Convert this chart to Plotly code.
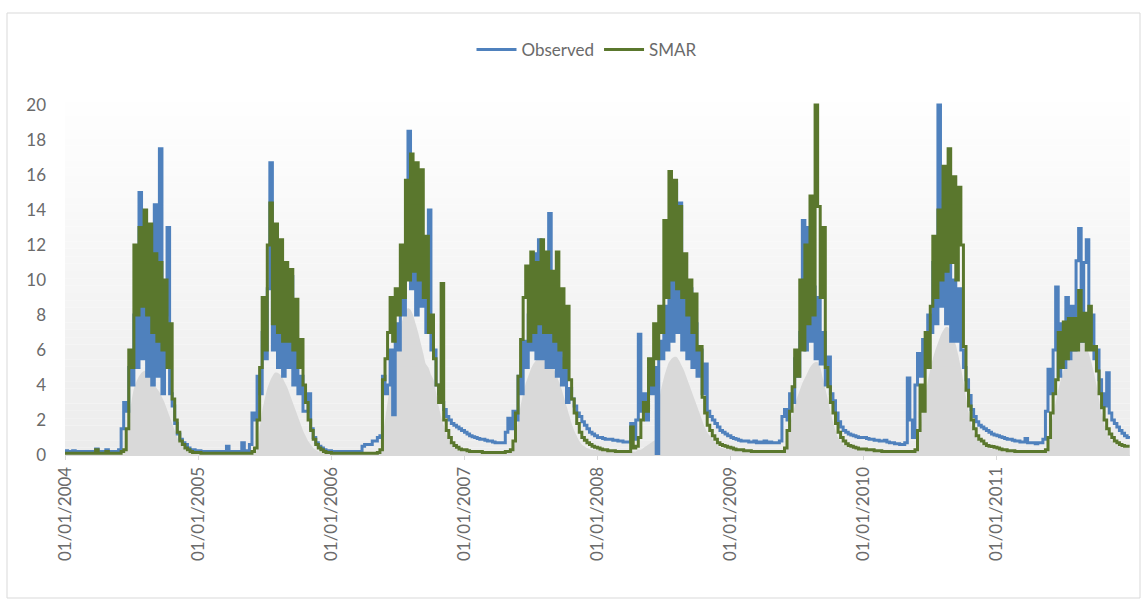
import pandas as pd
import plotly.graph_objects as go

# Weekly streamflow values (one value per 7 days from 1 January of each year)
years = [2004, 2005, 2006, 2007, 2008, 2009, 2010, 2011]

obs_2004 = [0.25, 0.2, 0.2, 0.25, 0.2, 0.2, 0.2, 0.2, 0.2, 0.2, 0.2, 0.2, 0.35, 0.2, 0.2, 0.2, 0.3, 0.2, 0.2, 0.2, 0.2, 0.3,
            1.5, 3.0, 2.5, 5.0, 4.0, 8.0, 5.0, 15.0, 5.5, 13.0, 4.5, 9.0, 4.0, 14.3, 4.5, 17.5, 3.5, 8.0, 13.0, 3.5,
            2.8, 1.8, 1.2, 0.9, 0.7, 0.6, 0.4, 0.3, 0.3, 0.25]
obs_2005 = [0.25, 0.2, 0.2, 0.2, 0.2, 0.2, 0.2, 0.2, 0.2, 0.2, 0.2, 0.5, 0.2, 0.2, 0.2, 0.2, 0.2, 0.7, 0.2, 0.25, 0.6,
            2.4, 2.0, 4.5, 3.5, 7.0, 5.5, 9.5, 16.7, 6.0, 8.5, 5.0, 8.0, 4.5, 7.5, 5.0, 10.2, 4.0, 6.0, 3.5, 4.5,
            2.5, 2.5, 3.5, 1.5, 1.0, 0.7, 0.5, 0.4, 0.3, 0.25, 0.25]
obs_2006 = [0.2, 0.2, 0.2, 0.2, 0.2, 0.2, 0.2, 0.2, 0.2, 0.2, 0.2, 0.2, 0.5, 0.6, 0.6, 0.6, 0.8, 0.8, 1.0, 1.1,
            4.5, 3.5, 4.0, 6.0, 2.3, 7.5, 6.0, 9.0, 8.0, 12.0, 18.5, 9.5, 12.5, 8.0, 11.0, 8.5, 12.0, 7.0, 14.0, 6.0,
            6.0, 4.0, 3.5, 3.0, 2.6, 2.2, 2.0, 1.8, 1.7, 1.6, 1.5, 1.4]
obs_2007 = [1.3, 1.2, 1.1, 1.05, 1.0, 0.95, 0.9, 0.9, 0.85, 0.8, 0.8, 0.75, 0.7, 0.7, 0.7, 0.7,
            1.3, 2.1, 1.5, 2.5, 2.0, 4.5, 3.5, 6.5, 5.0, 8.0, 6.0, 11.5, 5.5, 12.3, 5.5, 9.0, 5.0, 13.8, 5.0, 8.0,
            4.5, 7.0, 4.0, 5.5, 3.0, 3.8, 3.2, 2.8, 2.4, 2.2, 1.9, 1.7, 1.5, 1.3, 1.2, 1.1]
obs_2008 = [1.0, 1.0, 0.95, 0.9, 0.9, 0.9, 0.85, 0.85, 0.8, 0.8, 0.75, 0.75, 0.75,
            1.8, 0.9, 2.0, 6.9, 2.5, 3.5, 2.0, 4.5, 3.5, 5.0, 0.05, 6.5, 5.5, 8.5, 6.0, 10.0, 6.5, 15.5, 7.0, 14.4,
            6.0, 9.0, 5.5, 9.5, 5.0, 7.5, 4.5, 6.0, 3.5, 5.2, 2.5, 2.2, 2.0, 1.8, 1.6, 1.4, 1.3, 1.2, 1.1]
obs_2009 = [1.0, 0.95, 0.9, 0.85, 0.8, 0.8, 0.8, 0.75, 0.75, 0.8, 0.7, 0.75, 0.7, 0.8, 0.7, 0.75, 0.7, 0.7, 0.7, 0.8,
            2.2, 2.6, 2.0, 3.5, 3.0, 5.5, 4.5, 7.0, 13.4, 6.0, 13.0, 6.5, 9.6, 5.5, 9.0, 5.2, 7.0, 4.0, 5.6, 3.5,
            3.1, 2.4, 1.9, 1.6, 1.4, 1.3, 1.2, 1.15, 1.1, 1.05, 1.0, 1.0]
obs_2010 = [1.0, 0.95, 0.9, 0.9, 0.85, 0.85, 0.8, 0.8, 0.85, 0.75, 0.7, 0.7, 0.65, 0.65, 0.6, 0.6, 0.7,
            4.4, 2.0, 1.0, 4.0, 5.8, 4.5, 6.6, 5.5, 8.0, 7.0, 11.0, 7.5, 20.0, 8.5, 14.6, 7.5, 11.0, 6.5, 10.0,
            6.5, 9.5, 6.0, 5.0, 4.3, 3.4, 2.6, 2.2, 1.9, 1.7, 1.6, 1.5, 1.4, 1.3, 1.2, 1.15]
obs_2011 = [1.1, 1.05, 1.0, 0.95, 0.9, 0.9, 0.85, 0.8, 0.8, 0.75, 0.75, 0.95, 0.7, 0.7, 0.7, 0.65, 0.7, 0.7, 0.9,
            2.5, 4.9, 3.5, 6.0, 9.6, 4.5, 7.5, 5.0, 9.0, 5.5, 8.5, 6.0, 11.1, 12.95, 6.5, 11.0, 12.3, 6.5, 8.0,
            5.5, 6.0, 4.3, 3.5, 2.8, 4.7, 2.4, 2.0, 1.8, 1.6, 1.4, 1.25, 1.1, 1.0, 0.95]

smar_2004 = [0.1, 0.1, 0.1, 0.1, 0.1, 0.1, 0.1, 0.1, 0.1, 0.1, 0.1, 0.1, 0.3, 0.1, 0.1, 0.1, 0.2, 0.1, 0.1, 0.1, 0.1, 0.1,
             0.2, 0.3, 1.5, 6.0, 5.0, 12.0, 8.0, 13.0, 8.5, 14.0, 8.0, 13.2, 7.0, 11.5, 6.5, 11.0, 6.0, 10.0, 5.0,
             7.5, 3.2, 2.0, 1.3, 0.8, 0.6, 0.4, 0.3, 0.2, 0.15, 0.15]
smar_2005 = [0.15, 0.1, 0.1, 0.1, 0.1, 0.1, 0.1, 0.1, 0.1, 0.1, 0.1, 0.1, 0.1, 0.1, 0.1, 0.1, 0.1, 0.1, 0.1, 0.1, 0.1,
             0.2, 0.4, 2.0, 5.0, 9.0, 6.0, 12.0, 14.4, 7.5, 13.2, 7.0, 12.3, 6.5, 11.0, 6.5, 10.6, 6.0, 8.9, 5.0,
             6.6, 4.0, 3.0, 2.0, 1.4, 0.9, 0.6, 0.4, 0.3, 0.2, 0.15, 0.15]
smar_2006 = [0.1, 0.1, 0.1, 0.1, 0.1, 0.1, 0.1, 0.1, 0.1, 0.1, 0.1, 0.1, 0.1, 0.1, 0.1, 0.1, 0.1, 0.1, 0.15,
             0.3, 4.3, 5.5, 7.0, 9.0, 6.5, 9.5, 8.0, 12.0, 9.0, 15.7, 10.0, 17.2, 10.5, 16.7, 10.0, 16.3, 9.0,
             12.5, 7.0, 8.0, 5.5, 4.0, 3.0, 9.8, 2.0, 1.4, 1.0, 0.7, 0.55, 0.45, 0.35, 0.3]
smar_2007 = [0.3, 0.25, 0.2, 0.2, 0.2, 0.2, 0.2, 0.15, 0.15, 0.15, 0.15, 0.15, 0.15, 0.15, 0.15, 0.15,
             0.2, 0.2, 0.3, 0.8, 2.4, 4.5, 6.6, 9.0, 10.8, 6.5, 11.6, 7.0, 11.0, 7.5, 12.3, 7.0, 11.6, 7.0, 10.5,
             6.5, 11.6, 6.0, 9.5, 5.0, 8.5, 4.3, 3.2, 2.4, 1.8, 1.3, 1.0, 0.85, 0.7, 0.6, 0.5, 0.45]
smar_2008 = [0.4, 0.35, 0.3, 0.3, 0.25, 0.25, 0.25, 0.2, 0.2, 0.2, 0.2, 0.2, 0.2,
             1.6, 0.4, 0.5, 1.0, 2.0, 3.0, 2.5, 5.5, 4.0, 7.5, 5.5, 8.5, 7.0, 13.4, 9.0, 16.2, 10.0, 15.7, 9.5,
             14.2, 9.0, 11.5, 8.0, 10.0, 7.0, 9.2, 6.0, 6.2, 3.3, 2.4, 1.7, 1.4, 1.1, 0.9, 0.7, 0.6, 0.55, 0.5, 0.45]
smar_2009 = [0.4, 0.35, 0.3, 0.3, 0.3, 0.25, 0.25, 0.25, 0.2, 0.2, 0.2, 0.2, 0.2, 0.2, 0.2, 0.2, 0.2, 0.2, 0.2, 0.2,
             0.2, 0.4, 1.4, 2.5, 3.9, 6.0, 4.5, 10.0, 6.0, 12.0, 7.5, 14.8, 8.0, 20.0, 14.2, 9.0, 13.0, 5.0, 3.9,
             3.0, 2.4, 1.8, 1.3, 1.0, 0.8, 0.65, 0.55, 0.5, 0.45, 0.4, 0.35, 0.35]
smar_2010 = [0.35, 0.3, 0.3, 0.3, 0.25, 0.25, 0.25, 0.2, 0.2, 0.2, 0.2, 0.2, 0.2, 0.2, 0.2, 0.2, 0.2,
             0.2, 0.2, 0.2, 0.3, 1.4, 4.0, 2.5, 7.0, 5.0, 8.5, 12.5, 9.0, 14.0, 10.0, 16.5, 10.5, 17.5, 11.0, 15.9,
             10.0, 15.3, 12.0, 6.2, 3.7, 2.8, 2.0, 1.5, 1.1, 0.9, 0.8, 0.65, 0.55, 0.5, 0.48, 0.45]
smar_2011 = [0.4, 0.35, 0.3, 0.3, 0.25, 0.25, 0.25, 0.2, 0.2, 0.2, 0.2, 0.2, 0.2, 0.2, 0.2, 0.2, 0.2, 0.2, 0.2,
             0.3, 1.0, 2.4, 3.5, 4.3, 7.0, 5.0, 7.6, 5.5, 7.8, 6.0, 7.8, 6.0, 9.4, 6.5, 8.1, 6.0, 8.5, 6.0, 6.2,
             4.8, 3.5, 2.7, 2.0, 1.5, 1.2, 1.0, 0.8, 0.7, 0.6, 0.55, 0.5, 0.5, 0.5]

# Shaded base-flow envelope drawn beneath both lines
band_2004 = [0.1] * 24 + [0.5, 2.0, 3.0, 3.8, 4.2, 4.5, 4.7, 4.8, 4.8, 4.6, 4.3, 4.0, 3.8, 3.6, 3.3, 3.0, 2.6, 2.2,
                          1.8, 1.4, 1.0, 0.7, 0.5, 0.35, 0.2, 0.15, 0.1, 0.1]
band_2005 = [0.1] * 23 + [0.3, 1.5, 2.5, 3.2, 3.8, 4.2, 4.5, 4.7, 4.7, 4.6, 4.4, 4.1, 3.8, 3.4, 3.0, 2.6, 2.2, 1.8,
                          1.4, 1.1, 0.8, 0.6, 0.4, 0.3, 0.2, 0.15, 0.1, 0.1, 0.1]
band_2006 = [0.1] * 20 + [1.0, 2.0, 3.0, 4.0, 5.0, 5.8, 6.5, 7.2, 7.8, 8.2, 8.4, 8.3, 8.0, 7.5, 7.0, 6.4, 5.8, 5.2,
                          5.0, 4.6, 4.3, 3.6, 2.8, 2.2, 1.7, 1.2, 0.9, 0.6, 0.45, 0.35, 0.3, 0.25]
band_2007 = [0.25, 0.2, 0.2, 0.15, 0.15, 0.15, 0.15, 0.15, 0.1, 0.1, 0.1, 0.1, 0.1, 0.1, 0.1, 0.1, 0.1, 0.1, 0.15, 0.3,
             1.0, 2.0, 2.8, 3.5, 4.1, 4.5, 4.9, 5.2, 5.4, 5.5, 5.6, 5.6, 5.5, 5.4, 5.2, 4.9, 4.6, 4.2, 3.8, 3.3,
             2.8, 2.3, 1.8, 1.4, 1.1, 0.8, 0.6, 0.5, 0.4, 0.35, 0.3, 0.3]
band_2008 = [0.3, 0.3, 0.25, 0.25, 0.2, 0.2, 0.2, 0.15, 0.15, 0.15, 0.15, 0.15, 0.15, 0.2, 0.2, 0.2, 0.3,
             0.3, 0.4, 0.5, 0.6, 0.7, 0.8, 0.9, 3.0, 3.8, 4.4, 4.9, 5.3, 5.5, 5.6, 5.6, 5.4, 5.1, 4.8, 4.4, 4.0,
             3.6, 3.2, 2.8, 2.4, 2.0, 1.6, 1.3, 1.1, 0.9, 0.7, 0.55, 0.45, 0.4, 0.35, 0.35]
band_2009 = [0.3, 0.3, 0.25, 0.25, 0.25, 0.2, 0.2, 0.2, 0.15, 0.15, 0.15, 0.15, 0.15, 0.15, 0.15, 0.15, 0.15, 0.15,
             0.15, 0.15, 0.15, 0.3, 0.8, 1.5, 2.2, 2.8, 3.3, 3.7, 4.1, 4.4, 4.7, 5.0, 5.2, 5.3, 5.3, 5.0, 4.4, 3.8,
             3.2, 2.5, 1.9, 1.4, 1.0, 0.8, 0.6, 0.5, 0.45, 0.4, 0.35, 0.3, 0.3, 0.3]
band_2010 = [0.3, 0.25, 0.25, 0.25, 0.2, 0.2, 0.2, 0.15, 0.15, 0.15, 0.15, 0.15, 0.15, 0.15, 0.15, 0.15, 0.15, 0.15,
             0.15, 0.15, 0.2, 0.5, 1.5, 2.5, 3.4, 4.2, 4.9, 5.5, 6.0, 6.4, 6.8, 7.1, 7.3, 7.3, 7.1, 6.8, 6.3, 5.7,
             5.0, 4.2, 3.3, 2.5, 1.8, 1.3, 1.0, 0.8, 0.6, 0.5, 0.45, 0.4, 0.35, 0.35]
band_2011 = [0.3, 0.25, 0.25, 0.2, 0.2, 0.2, 0.2, 0.15, 0.15, 0.15, 0.15, 0.15, 0.15, 0.15, 0.15, 0.15, 0.15, 0.15,
             0.15, 0.2, 0.6, 1.5, 2.3, 3.0, 3.7, 4.3, 4.8, 5.2, 5.6, 5.9, 6.2, 6.4, 6.6, 6.6, 6.5, 6.2, 5.8, 5.3,
             4.7, 4.0, 3.2, 2.4, 1.8, 1.3, 1.0, 0.8, 0.65, 0.55, 0.5, 0.45, 0.4, 0.4, 0.4]

tick_years = [2004, 2005, 2006, 2007, 2008, 2009, 2010, 2011]
tick_labels = ["01/01/%d" % y for y in tick_years]

observed_years = [obs_2004, obs_2005, obs_2006, obs_2007, obs_2008, obs_2009, obs_2010, obs_2011]
smar_years = [smar_2004, smar_2005, smar_2006, smar_2007, smar_2008, smar_2009, smar_2010, smar_2011]
band_years = [band_2004, band_2005, band_2006, band_2007, band_2008, band_2009, band_2010, band_2011]


def weekly(year_lists):
    xs, ys = [], []
    for yr, vals in zip(years, year_lists):
        xs.extend(pd.date_range(f"{yr}-01-01", periods=len(vals), freq="7D"))
        ys.extend(vals)
    return xs, ys


obs_x, obs_y = weekly(observed_years)
smar_x, smar_y = weekly(smar_years)
band_x, band_y = weekly(band_years)

TEXT = "#6a6a6a"
FONT = "Lato"
BLUE = "#4f81bd"
GREEN = "#5a772d"

# canvas geometry (pixels)
W, H = 1142, 604
ML, MR, MT, MB = 65, 12, 101, 149
PW, PH = W - ML - MR, H - MT - MB


def px_to_paper_x(px):
    return (px - ML) / PW


def px_to_paper_y(py):
    return (H - MB - py) / PH


fig = go.Figure()

fig.add_trace(go.Scatter(
    x=band_x, y=band_y, mode="lines", fill="tozeroy",
    fillcolor="#d9d9d9", line=dict(width=0, color="#d9d9d9", shape="spline", smoothing=0.6),
    showlegend=False, hoverinfo="skip"))
fig.add_trace(go.Scatter(
    x=obs_x, y=obs_y, mode="lines", name="Observed",
    line=dict(color=BLUE, width=3, shape="hv", simplify=False)))
fig.add_trace(go.Scatter(
    x=smar_x, y=smar_y, mode="lines", name="SMAR",
    line=dict(color=GREEN, width=3, shape="hv", simplify=False)))

# soft vertical gradient behind the plot area
shapes = []
n_bands = 50
for i in range(n_bands):
    f = i / (n_bands - 1)
    g = int(round(236 + (255 - 236) * f))
    shapes.append(dict(
        type="rect", xref="paper", yref="paper", layer="below",
        x0=0, x1=1, y0=i / n_bands * 1.04, y1=(i + 1) / n_bands * 1.04,
        fillcolor=f"rgb({g},{g},{g})", line=dict(width=0)))

# chart frame
shapes.append(dict(
    type="rect", xref="paper", yref="paper", layer="above",
    x0=px_to_paper_x(7), x1=px_to_paper_x(1140),
    y0=px_to_paper_y(598), y1=px_to_paper_y(13),
    line=dict(color="#d9d9d9", width=1), fillcolor="rgba(0,0,0,0)"))

fig.update_layout(
    width=W, height=H,
    margin=dict(l=ML, r=MR, t=MT, b=MB, pad=0),
    paper_bgcolor="white", plot_bgcolor="white",
    font=dict(family=FONT, size=17, color=TEXT),
    shapes=shapes,
    legend=dict(
        orientation="h", x=px_to_paper_x(587), xanchor="center",
        y=px_to_paper_y(50), yanchor="middle",
        font=dict(family=FONT, size=17, color=TEXT),
        bgcolor="rgba(0,0,0,0)", itemwidth=40, tracegroupgap=0),
    xaxis=dict(
        type="date", range=["2004-01-01", "2012-01-01"],
        tickvals=[f"{y}-01-01" for y in tick_years], ticktext=tick_labels,
        tickangle=-90, ticks="outside", ticklen=4, tickcolor="#d9d9d9",
        showgrid=False, zeroline=False, showline=True, linecolor="#d9d9d9",
        tickfont=dict(family=FONT, size=17, color=TEXT)),
    yaxis=dict(
        range=[0, 20.23], tickvals=list(range(0, 21, 2)),
        showgrid=False, zeroline=False, showline=False, ticks="",
        ticklabelstandoff=18,
        tickfont=dict(family=FONT, size=17, color=TEXT)),
)

fig.write_html("out.html")
